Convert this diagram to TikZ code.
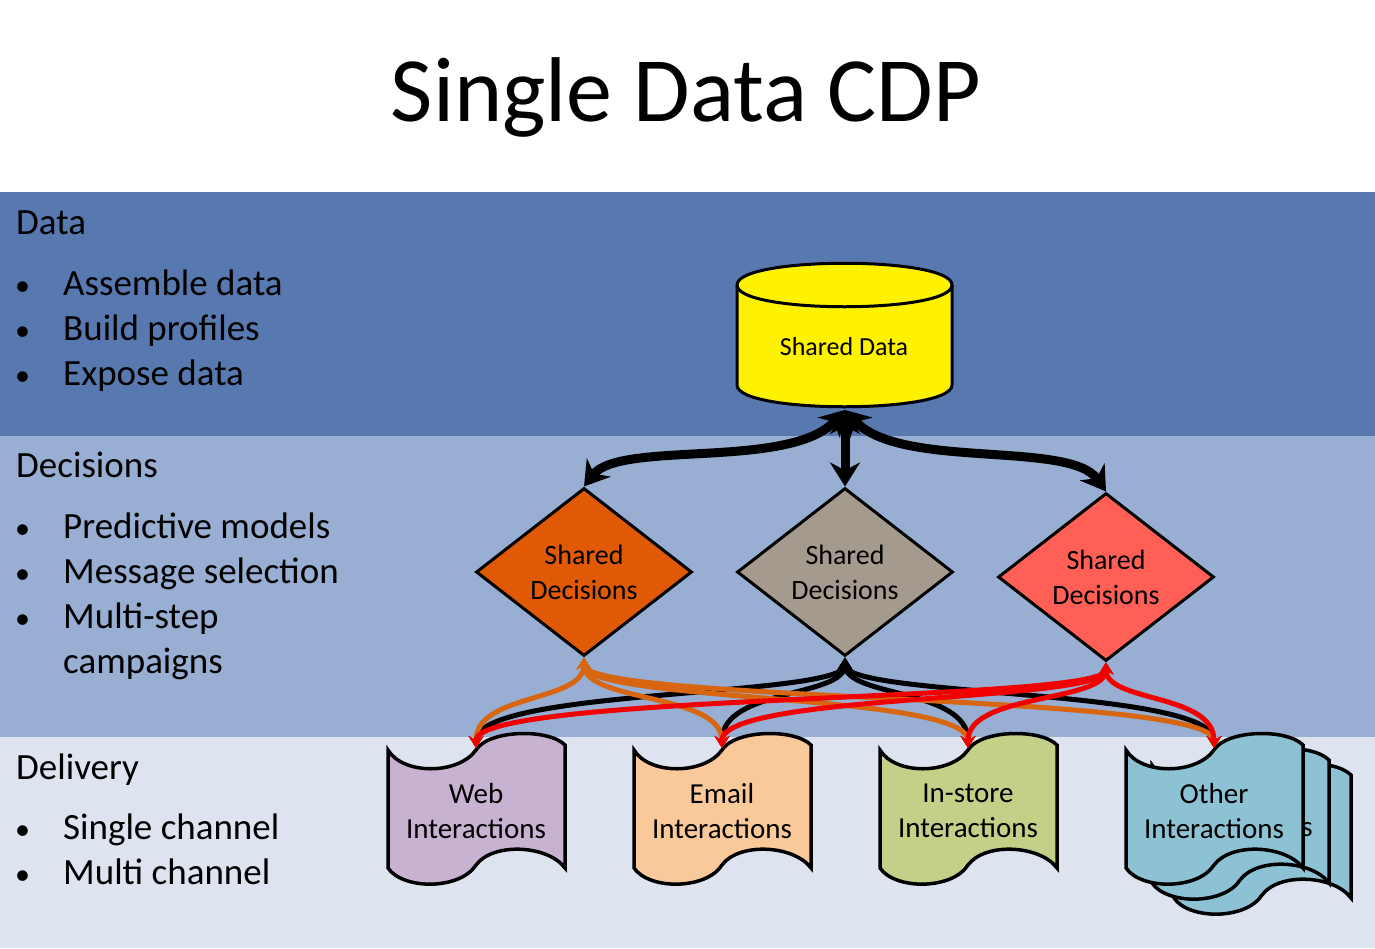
\documentclass[tikz,border=0pt]{standalone}
\usepackage{fontspec}
\setmainfont{Carlito}
\usetikzlibrary{shapes.geometric,arrows.meta,calc}
\definecolor{bandA}{HTML}{5878B0}
\definecolor{bandB}{HTML}{98AED2}
\definecolor{bandC}{HTML}{DDE3EF}
\definecolor{cOr}{HTML}{E05A06}
\definecolor{cGr}{HTML}{A59A8E}
\definecolor{cRd}{HTML}{FF5F55}
\definecolor{cArOr}{HTML}{D8650F}
\definecolor{cWeb}{HTML}{C8B2D2}
\definecolor{cEm}{HTML}{F9C99A}
\definecolor{cIn}{HTML}{C2D187}
\definecolor{cOt}{HTML}{8CC2D3}
\begin{document}
\begin{tikzpicture}[x=1pt,y=-1pt,
  head/.style={font=\fontsize{37}{40}\selectfont,anchor=base west,inner sep=0pt},
  item/.style={font=\fontsize{37}{40}\selectfont,anchor=base west,inner sep=0pt},
  dot/.style={font=\fontsize{30}{32}\selectfont,anchor=base west,inner sep=0pt},
  dia/.style={diamond,draw,line width=3pt,minimum width=216pt,minimum height=168pt,inner sep=0pt,align=center,font=\fontsize{28}{35}\selectfont},
  lbl/.style={align=center,font=\fontsize{29}{35}\selectfont},
  big/.style={line width=9pt,{Stealth[length=24pt,width=30pt]}-{Stealth[length=24pt,width=30pt]}},
  sm/.style={line width=5pt,{Stealth[length=12pt,width=15pt]}-{Stealth[length=12pt,width=15pt]}}]
\useasboundingbox (0,0) rectangle (1375,948);
\fill[white] (0,0) rectangle (1375,192);
\fill[bandA] (0,192) rectangle (1375,436);
\fill[bandB] (0,436) rectangle (1375,737);
\fill[bandC] (0,737) rectangle (1375,948);
\node[font=\fontsize{92}{96}\selectfont] (title) at (686,97) {Single Data CDP};
% left text
\node[head] (h1) at (16,234) {Data};
\node[dot] (b1) at (15,295) {•};
\node[item] (i1) at (63,295) {Assemble data};
\node[dot] (b2) at (15,340) {•};
\node[item] (i2) at (63,340) {Build profiles};
\node[dot] (b3) at (15,385) {•};
\node[item] (i3) at (63,385) {Expose data};
\node[head] (h2) at (16,477) {Decisions};
\node[dot] (b4) at (15,538) {•};
\node[item] (i4) at (63,538) {Predictive models};
\node[dot] (b5) at (15,583) {•};
\node[item] (i5) at (63,583) {Message selection};
\node[dot] (b6) at (15,628) {•};
\node[item] (i6) at (63,628) {Multi-step};
\node[item] (i7) at (63,673) {campaigns};
\node[head] (h3) at (16,779) {Delivery};
\node[dot] (b8) at (15,839) {•};
\node[item] (i8) at (63,839) {Single channel};
\node[dot] (b9) at (15,884) {•};
\node[item] (i9) at (63,884) {Multi channel};
% cylinder
\draw[fill=yellow,line width=3pt] (737,285) -- (737,385) .. controls (737,414) and (952,414) .. (952,385) -- (952,285) .. controls (952,256) and (737,256) .. (737,285) -- cycle;
\draw[line width=3pt] (737,285) .. controls (737,314) and (952,314) .. (952,285);
\node[lbl,font=\fontsize{26}{30}\selectfont] (sd) at (844,347) {Shared Data};
\coordinate (cb) at (845,410);
% diamonds
\node[dia,fill=cOr] (d1) at (584,572) {Shared\\Decisions};
\node[dia,fill=cGr] (d2) at (845,572) {Shared\\Decisions};
\node[dia,fill=cRd] (d3) at (1106,577) {Shared\\Decisions};
\draw[big] (d1.north) .. controls (620,440) and (790,470) .. (cb);
\draw[big] (d2.north) -- (cb);
\draw[big] (d3.north) .. controls (1070,440) and (900,470) .. (cb);
% documents
\tikzset{docp/.pic={\draw[line width=3.5pt,fill=#1] (0,750) .. controls (15,775) and (70,775) .. (88,750) .. controls (100,730) and (160,728) .. (177,745) -- (177,868) .. controls (160,845) and (105,842) .. (88,865) .. controls (72,890) and (15,890) .. (0,868) -- cycle;}}
\pic at (1174,30) {docp=cOt};
\pic at (1152,15) {docp=cOt};
\node[lbl] (ghost) at (1307,830) {s};
\pic at (388,0) {docp=cWeb};
\pic at (634,0) {docp=cEm};
\pic at (880,0) {docp=cIn};
\pic at (1126,0) {docp=cOt};
\node[lbl] (w) at (476,811) {Web\\Interactions};
\node[lbl] (e) at (722,811) {Email\\Interactions};
\node[lbl] (s) at (968,811) {In-store\\Interactions};
\node[lbl] (o) at (1214,811) {Other\\Interactions};
\coordinate (tw) at (476,748);
\coordinate (te) at (722,748);
\coordinate (ts) at (968,748);
\coordinate (to) at (1214,748);
% black
\foreach \t in {tw,te,ts,to}
  \draw[sm,black] (d2.south) .. controls ($(d2.south)+(0,40)$) and ($(\t)+(0,-60)$) .. (\t);
% orange
\foreach \t in {tw,te,ts,to}
  \draw[sm,cArOr] (d1.south) .. controls ($(d1.south)+(0,45)$) and ($(\t)+(0,-55)$) .. (\t);
% red
\foreach \t in {tw,te,ts,to}
  \draw[sm,red!95!black] (d3.south) .. controls ($(d3.south)+(0,40)$) and ($(\t)+(0,-55)$) .. (\t);
\end{tikzpicture}
\end{document}
